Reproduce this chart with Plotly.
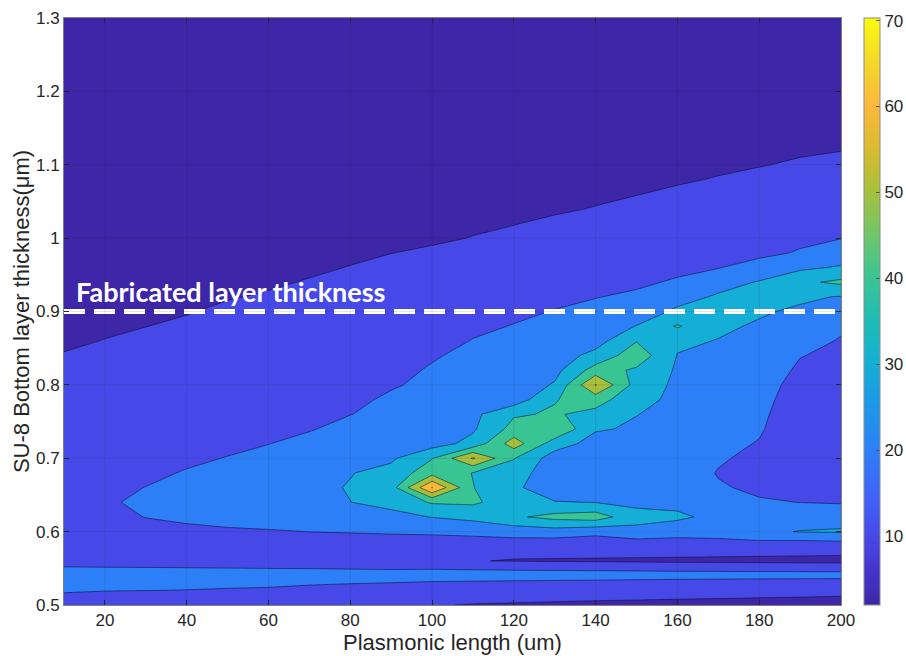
import plotly.graph_objects as go

# ---------------- data ----------------
lengths_um = [10, 20, 30, 40, 50, 60, 70, 80, 90, 100,
              110, 120, 130, 140, 150, 160, 170, 180, 190, 200]

thickness_um = [0.50, 0.52, 0.54, 0.55, 0.56, 0.57, 0.58,
                0.60, 0.62, 0.64, 0.66, 0.68, 0.70, 0.72, 0.74, 0.76, 0.78,
                0.80, 0.82, 0.84, 0.86, 0.88, 0.90, 0.92, 0.94, 0.96, 0.98,
                1.00, 1.02, 1.04, 1.06, 1.08, 1.10, 1.12, 1.14, 1.16, 1.18,
                1.20, 1.22, 1.24, 1.26, 1.28, 1.30]

# one list per plasmonic length, values listed from 0.50 um up to 1.30 um
L010 = [15, 21, 22.5, 20.8, 16.8, 16.8, 17.2, 17.5, 18, 18, 17.5, 16.5, 15.5, 14.5, 13.5, 12.8, 12, 11.4, 10.8, 10.2, 9.4, 8.7, 8.1, 7.5, 7.0, 6.5, 6.0, 5.6, 5.2, 4.9, 4.6, 4.3, 4.0, 3.8, 3.6, 3.4, 3.2, 3.0, 2.8, 2.6, 2.4, 2.2, 2.0]
L020 = [14.5, 20.3, 22.5, 20.6, 16.6, 16.8, 17.3, 18, 18.7, 19, 18.5, 17.5, 16.5, 15.5, 14.6, 13.8, 13.0, 12.3, 11.6, 10.9, 10.1, 9.4, 8.8, 8.2, 7.6, 7.1, 6.6, 6.2, 5.8, 5.4, 5.1, 4.8, 4.5, 4.2, 4.0, 3.8, 3.6, 3.4, 3.2, 3.0, 2.8, 2.6, 2.4]
L030 = [14.2, 20.1, 22.5, 20.5, 16.5, 16.8, 17.4, 18.5, 20.1, 21.5, 20.1, 18.8, 17.6, 16.5, 15.5, 14.6, 13.8, 13.0, 12.2, 11.5, 10.8, 9.95, 9.3, 8.7, 8.1, 7.6, 7.1, 6.7, 6.3, 5.9, 5.6, 5.3, 5.0, 4.7, 4.4, 4.2, 4.0, 3.8, 3.6, 3.4, 3.2, 3.0, 2.8]
L040 = [13.8, 19.9, 22.5, 20.3, 16.5, 16.7, 17.3, 18.2, 21.5, 22.5, 22.0, 20.4, 19.0, 17.8, 16.7, 15.7, 14.8, 13.9, 13.1, 12.3, 11.3, 10.6, 9.8, 9.2, 8.6, 8.1, 7.6, 7.2, 6.8, 6.4, 6.0, 5.7, 5.4, 5.1, 4.8, 4.6, 4.4, 4.2, 4.0, 3.8, 3.6, 3.4, 3.2]
L050 = [13.5, 19.6, 22.6, 20.1, 16.4, 16.6, 17.2, 18.8, 23, 24, 24, 22.8, 20.2, 18.8, 17.6, 16.6, 15.6, 14.7, 13.8, 13.0, 12.2, 11.4, 10.6, 9.8, 9.2, 8.6, 8.1, 7.6, 7.2, 6.8, 6.4, 6.1, 5.8, 5.5, 5.2, 5.0, 4.8, 4.6, 4.4, 4.2, 4.0, 3.8, 3.6]
L060 = [13.2, 19.3, 22.8, 19.95, 16.3, 16.5, 17.0, 19.4, 23.4, 25.0, 25.5, 25, 23, 19.8, 18.5, 17.3, 16.2, 15.2, 14.3, 13.5, 12.7, 11.9, 11.1, 10.3, 9.6, 9.0, 8.5, 8.0, 7.6, 7.2, 6.8, 6.5, 6.2, 5.9, 5.6, 5.4, 5.2, 5.0, 4.8, 4.6, 4.4, 4.2, 4.0]
L070 = [13.0, 18.9, 22.0, 19.9, 16.2, 16.4, 17.0, 20.05, 24, 26.5, 27.5, 27.5, 26, 23, 19.3, 18.2, 17.2, 16.2, 15.3, 14.4, 13.6, 12.8, 12.0, 11.2, 10.2, 9.5, 8.9, 8.4, 7.9, 7.5, 7.1, 6.8, 6.5, 6.2, 5.9, 5.7, 5.5, 5.3, 5.1, 4.9, 4.7, 4.5, 4.3]
L080 = [12.8, 18.6, 21.7, 19.8, 16.0, 16.3, 17.0, 20.3, 26, 29.9, 30.6, 29.6, 28, 26, 23, 19.8, 18.6, 17.5, 16.5, 15.5, 14.6, 13.7, 12.9, 12.1, 11.3, 10.1, 9.4, 8.8, 8.3, 7.8, 7.4, 7.0, 6.7, 6.4, 6.1, 5.9, 5.7, 5.5, 5.3, 5.1, 4.9, 4.7, 4.5]
L090 = [12.6, 18.4, 21.5, 19.7, 15.5, 16.0, 17.0, 20.6, 27, 33, 35.7, 33, 28.5, 26.5, 24.5, 22.5, 21, 19.4, 18.3, 17.2, 16.2, 15.2, 14.0, 13.0, 12.0, 10.9, 9.95, 9.2, 8.6, 8.1, 7.6, 7.2, 6.9, 6.6, 6.3, 6.1, 5.9, 5.7, 5.5, 5.3, 5.1, 4.9, 4.7]
L100 = [10.4, 16, 22.7, 19.6, 13.5, 14.5, 16.5, 21, 30.3, 41, 70.3, 46.5, 39.5, 25.9, 24.5, 23.3, 22.3, 21.4, 20.6, 19.4, 18.0, 16.6, 15.3, 14.1, 12.6, 11.5, 10.5, 9.5, 9.0, 8.5, 8.0, 7.6, 7.2, 6.9, 6.6, 6.4, 6.2, 6.0, 5.8, 5.6, 5.4, 5.2, 5.0]
L110 = [9.67, 14, 23.6, 19.1, 10.15, 11.2, 16, 21.8, 33, 41.5, 40.3, 39.7, 61, 33, 28.7, 27.5, 26, 24.5, 23, 21.6, 20.2, 19, 17.0, 15.3, 13.8, 12.4, 11.2, 10.1, 9.5, 9.0, 8.5, 8.1, 7.7, 7.4, 7.1, 6.8, 6.6, 6.4, 6.2, 6.0, 5.8, 5.6, 5.4]
L120 = [9.48, 13, 23.8, 18.7, 9.8, 10.54, 14, 24.3, 38.5, 35, 31.8, 35, 40.5, 55, 43.4, 38.9, 24.2, 23.5, 22.8, 22, 21.2, 20.2, 19.0, 17.3, 15.7, 14.2, 12.6, 11.0, 9.85, 9.1, 8.5, 8.0, 7.6, 7.2, 6.9, 6.6, 6.4, 6.2, 6.0, 5.8, 5.6, 5.4, 5.2]
L130 = [9.27, 12.5, 23.6, 18.5, 9.4, 11.2, 12.5, 25.7, 43, 30.5, 24, 23.5, 25, 35, 49.3, 41, 39.5, 31, 27, 25.2, 23.5, 21.8, 20.2, 18.8, 17.0, 15.3, 13.8, 12.3, 10.8, 9.4, 8.8, 8.3, 7.9, 7.5, 7.2, 6.9, 6.6, 6.4, 6.2, 6.0, 5.8, 5.6, 5.4]
L140 = [9.02, 12.4, 23.3, 18.45, 9.0, 11.56, 12.6, 23, 45, 29.8, 24, 22.5, 23, 26, 31, 37, 44.3, 60.5, 44.3, 33, 26, 24, 22.5, 19.7, 18.3, 16.8, 14.8, 13.2, 11.7, 10.2, 9.2, 8.6, 8.1, 7.7, 7.3, 7.0, 6.7, 6.4, 6.2, 6.0, 5.8, 5.6, 5.4]
L150 = [8.87, 12.2, 23.0, 18.3, 8.6, 11.71, 12.5, 27.5, 33, 28, 26.5, 26, 26.5, 27.5, 28.8, 30.2, 33, 36, 38.5, 46, 39.5, 30.3, 25, 21.5, 18.5, 16.8, 15.2, 13.8, 12.4, 11.0, 9.9, 9.1, 8.5, 7.9, 7.4, 6.9, 6.5, 6.1, 5.7, 5.4, 5.1, 4.8, 4.6]
L160 = [8.72, 12.0, 22.7, 18.2, 8.2, 11.73, 15, 23.5, 32, 27, 26, 25, 25.5, 26.5, 27, 27.5, 27.8, 28, 28.8, 29.7, 31.5, 41, 31.5, 27, 21, 18, 16.5, 15.0, 13.5, 12.0, 10.6, 9.6, 8.9, 8.3, 7.7, 7.2, 6.7, 6.3, 5.9, 5.6, 5.3, 5.0, 4.8]
L170 = [8.59, 11.8, 22.5, 18.2, 7.8, 11.66, 14.2, 25, 27, 22, 20.8, 19.5, 21, 22.5, 23.5, 24.5, 25.5, 26.5, 27.5, 28.5, 29.7, 31.5, 33, 31, 27, 19.5, 17.8, 16.2, 14.8, 13.3, 11.8, 10.2, 9.4, 8.7, 8.1, 7.5, 7.0, 6.6, 6.2, 5.9, 5.6, 5.3, 5.0]
L180 = [8.46, 11.6, 22.4, 18.1, 7.5, 11.47, 14.7, 28, 25, 20.8, 18.5, 17.5, 17.8, 19.5, 21, 22, 23, 24, 25, 26, 27.3, 29, 31, 33, 30.5, 25, 17, 15.5, 14.2, 13.0, 12.0, 11.0, 9.8, 9.0, 8.3, 7.7, 7.2, 6.7, 6.3, 5.9, 5.6, 5.3, 5.0]
L190 = [8.24, 11.5, 22.3, 18.1, 7.2, 11.26, 13.07, 30.4, 25, 19.9, 16.5, 15.0, 14, 13.5, 13.5, 14, 15.2, 16.6, 18.6, 20.3, 22.5, 25.5, 28.6, 31.5, 38, 28, 21, 17.5, 15.8, 14.3, 13.0, 11.8, 10.5, 9.5, 8.7, 8.0, 7.4, 6.9, 6.5, 6.1, 5.8, 5.5, 5.2]
L200 = [8.13, 11.3, 22.2, 18.1, 7.0, 11.0, 14.1, 31, 26, 19.3, 17, 15.5, 14.5, 14, 13.8, 14, 14.5, 15.5, 16.8, 18.2, 19.5, 21, 26, 29.5, 42, 31, 24, 19.8, 17.8, 16.0, 14.4, 12.9, 11.1, 9.9, 9.0, 8.3, 7.7, 7.2, 6.8, 6.4, 6.1, 5.8, 5.5]

contour_levels = [10, 20, 30, 40, 50, 60, 70]
colorbar_ticks = [10, 20, 30, 40, 50, 60, 70]
x_ticks = [20, 40, 60, 80, 100, 120, 140, 160, 180, 200]
y_ticks = [0.5, 0.6, 0.7, 0.8, 0.9, 1.0, 1.1, 1.2, 1.3]
y_ticktext = ["0.5", "0.6", "0.7", "0.8", "0.9", "1", "1.1", "1.2", "1.3"]
fabricated_thickness = 0.9
fabricated_label = "Fabricated layer thickness"

# ---------------- colours (MATLAB parula look) ----------------
parula_stops = [
    (0.000, (62, 38, 168)), (0.060, (69, 53, 205)), (0.118, (70, 73, 232)),
    (0.190, (64, 100, 251)), (0.265, (45, 128, 247)), (0.340, (28, 152, 232)),
    (0.410, (20, 174, 214)), (0.480, (30, 188, 184)), (0.560, (58, 196, 146)),
    (0.630, (110, 199, 105)), (0.706, (168, 192, 60)), (0.780, (220, 186, 46)),
    (0.853, (252, 185, 60)), (0.920, (245, 213, 44)), (1.000, (249, 251, 14)),
]


def parula_at(t):
    t = min(max(t, 0.0), 1.0)
    for (t0, c0), (t1, c1) in zip(parula_stops, parula_stops[1:]):
        if t <= t1:
            f = (t - t0) / (t1 - t0)
            return "rgb(%d,%d,%d)" % tuple(round(a + (b - a) * f) for a, b in zip(c0, c1))
    return "rgb(%d,%d,%d)" % parula_stops[-1][1]


columns = [L010, L020, L030, L040, L050, L060, L070, L080, L090, L100,
           L110, L120, L130, L140, L150, L160, L170, L180, L190, L200]
z = [list(row) for row in zip(*columns)]

cmin = min(min(c) for c in columns)
cmax = max(max(c) for c in columns)

# MATLAB contourf: each filled band takes the colour of its lower level.
step = contour_levels[1] - contour_levels[0]
band_lows = [cmin] + contour_levels
n_bands = len(band_lows) - 1
band_scale = []
for k, v in enumerate(band_lows):
    col = parula_at((v - cmin) / (cmax - cmin))
    lo = max(0.0, (k - 0.5) / n_bands)
    hi = min(1.0, (k + 0.5) / n_bands)
    band_scale.append([lo, col])
    band_scale.append([hi, col])
bar_scale = [[t, "rgb(%d,%d,%d)" % c] for t, c in parula_stops]

font_family = "Liberation Sans, Arial, Helvetica, sans-serif"
ink = "#262626"

fig = go.Figure()
fig.add_trace(go.Contour(
    x=lengths_um, y=thickness_um, z=z,
    contours=dict(start=contour_levels[0], end=contour_levels[-1], size=step,
                  coloring="fill", showlines=True),
    zmin=contour_levels[0] - step / 2, zmax=contour_levels[-1] + step / 2,
    colorscale=band_scale,
    line=dict(color="rgba(10,10,30,0.75)", width=0.7, smoothing=0),
    showscale=False, hoverinfo="skip",
))

fig.add_trace(go.Scatter(
    x=[lengths_um[0], lengths_um[-1]], y=[fabricated_thickness] * 2,
    mode="lines", line=dict(color="white", width=5, dash="21px,9px"),
    hoverinfo="skip", showlegend=False,
))

# continuous colour bar
fig.add_trace(go.Scatter(
    x=[lengths_um[0]], y=[thickness_um[0]], mode="markers",
    marker=dict(size=0.1, opacity=0, color=[cmin], cmin=cmin, cmax=cmax,
                colorscale=bar_scale, showscale=True,
                colorbar=dict(x=1.0296, xanchor="left", xpad=0, y=0.5, yanchor="middle",
                              len=1, lenmode="fraction", ypad=0, thickness=16,
                              outlinewidth=1, outlinecolor="#8c8c8c",
                              ticks="inside", ticklen=4, tickwidth=1, tickcolor="#555555",
                              tickvals=colorbar_ticks,
                              tickfont=dict(family=font_family, size=17, color=ink))),
    hoverinfo="skip", showlegend=False,
))

grid_shapes = []
for t in x_ticks:
    grid_shapes.append(dict(type="line", xref="x", yref="y", x0=t, x1=t,
                            y0=y_ticks[0], y1=y_ticks[-1], layer="above",
                            line=dict(color="rgba(40,40,40,0.12)", width=1)))
for t in y_ticks[1:-1]:
    grid_shapes.append(dict(type="line", xref="x", yref="y", x0=lengths_um[0], x1=lengths_um[-1],
                            y0=t, y1=t, layer="above",
                            line=dict(color="rgba(40,40,40,0.12)", width=1)))

fig.update_layout(
    width=906, height=656,
    margin=dict(l=64, r=65, t=18, b=51, autoexpand=False),
    paper_bgcolor="white", plot_bgcolor="white", showlegend=False,
    font=dict(family=font_family, color=ink),
    shapes=grid_shapes,
    xaxis=dict(range=[lengths_um[0], lengths_um[-1]], tickvals=x_ticks,
               ticks="inside", ticklen=5, tickwidth=1, tickcolor=ink,
               showline=True, linecolor="#7f7f7f", linewidth=1, mirror="ticks",
               showgrid=False, zeroline=False, layer="above traces",
               tickfont=dict(size=17, color=ink),
               title=dict(text="Plasmonic length (um)", font=dict(size=22, color=ink), standoff=0)),
    yaxis=dict(range=[thickness_um[0], thickness_um[-1]], tickvals=y_ticks, ticktext=y_ticktext,
               ticks="inside", ticklen=5, tickwidth=1, tickcolor=ink,
               showline=True, linecolor="#7f7f7f", linewidth=1, mirror="ticks",
               showgrid=False, zeroline=False, layer="above traces",
               tickfont=dict(size=17, color=ink),
               title=dict(text="SU-8 Bottom layer thickness(μm)", font=dict(size=22, color=ink), standoff=0)),
    annotations=[dict(x=12.4, y=0.927, xref="x", yref="y", text=fabricated_label,
                      showarrow=False, xanchor="left", yanchor="middle",
                      font=dict(family="Lato, Open Sans, sans-serif", size=27, color="white", weight="bold"))],
)

fig.write_html("out.html")
